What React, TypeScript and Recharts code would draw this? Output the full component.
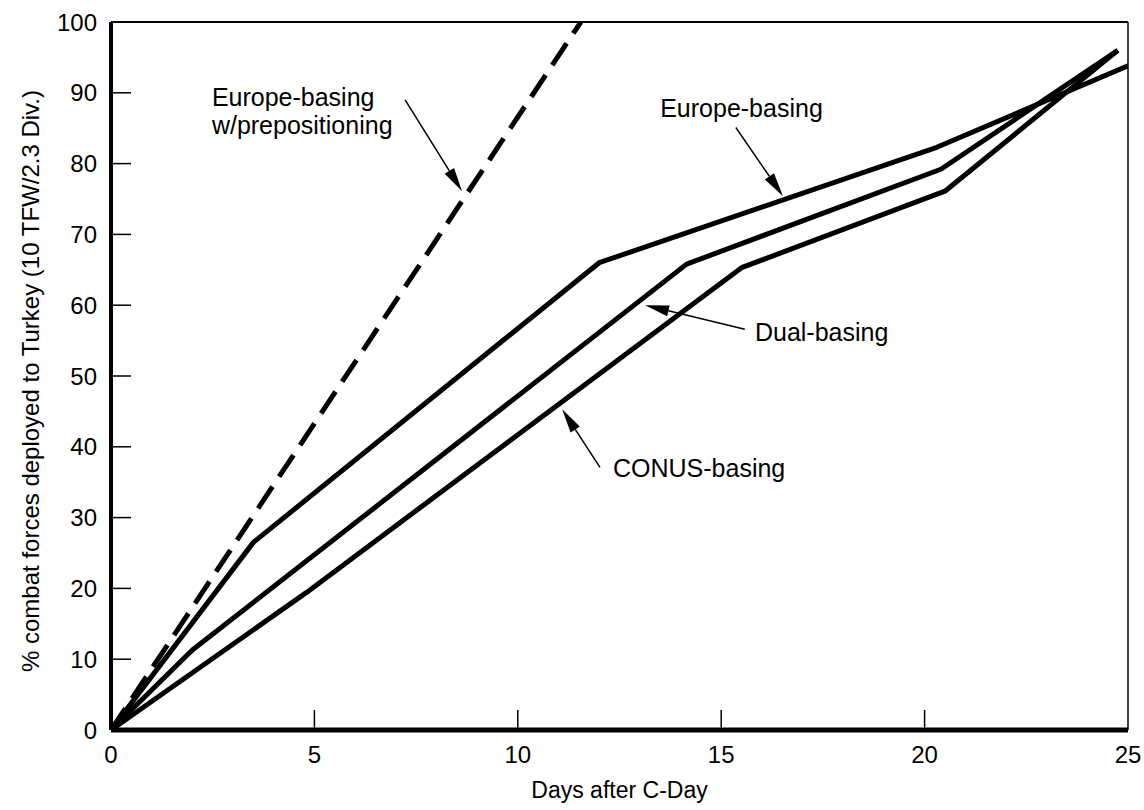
import React from "react";
import {
  LineChart,
  Line,
  XAxis,
  YAxis,
  ReferenceLine,
  ReferenceDot,
} from "recharts";

const prepoDays = [0, 11.55];
const prepoPct = [0, 100];

const europeDays = [0, 3.5, 12, 20.3, 25];
const europePct = [0, 26.5, 66, 82.3, 93.8];

const dualDays = [0, 2, 14.15, 20.4, 24.75];
const dualPct = [0, 11.3, 65.8, 79.2, 96];

const conusDays = [0, 4.8, 15.5, 20.5, 24.75];
const conusPct = [0, 19.4, 65.3, 76.1, 96];

const xTicks = [0, 5, 10, 15, 20, 25];
const yTicks = [0, 10, 20, 30, 40, 50, 60, 70, 80, 90, 100];

// annotation arrows: [fromDay, fromPct, toDay, toPct]
const arrows = [
  [7.23, 89.0, 8.63, 76.1],
  [15.36, 85.1, 16.52, 75.4],
  [15.58, 56.6, 13.13, 60.0],
  [12.02, 37.1, 11.09, 45.3],
];

// annotation text: [day, pct, lines]
const notes: [number, number, string[]][] = [
  [2.48, 88.1, ["Europe-basing", "w/prepositioning"]],
  [13.5, 86.6, ["Europe-basing"]],
  [15.83, 55.0, ["Dual-basing"]],
  [12.34, 35.8, ["CONUS-basing"]],
];

const toRows = (days: number[], pct: number[]) =>
  days.map((d, i) => ({ day: d, pct: pct[i] }));

const FONT = "'Liberation Sans', Arial, Helvetica, sans-serif";
const TICK_FS = 24;
const NOTE_FS = 25;
const TITLE_FS = 23;
const Y_MARGIN = 14;
const X_MARGIN = 16;
const TICK_LEN = 20;

const YTick = (props: any) => {
  const { x, y, payload } = props;
  const ax = x + Y_MARGIN;
  const v = payload.value;
  return (
    <g>
      {v !== 0 && v !== 100 && (
        <line x1={ax} y1={y} x2={ax + TICK_LEN} y2={y} stroke="#000" strokeWidth={1.5} />
      )}
      <text x={x} y={y} dy="0.355em" textAnchor="end" fontSize={TICK_FS} fontFamily={FONT} fill="#000">
        {v}
      </text>
    </g>
  );
};

const XTick = (props: any) => {
  const { x, y, payload } = props;
  const ay = y - X_MARGIN;
  const v = payload.value;
  return (
    <g>
      {v !== 0 && v !== 25 && (
        <line x1={x} y1={ay} x2={x} y2={ay - TICK_LEN} stroke="#000" strokeWidth={1.5} />
      )}
      <text x={x} y={y} dy="0.71em" textAnchor="middle" fontSize={TICK_FS} fontFamily={FONT} fill="#000">
        {v}
      </text>
    </g>
  );
};

const YTitle = (props: any) => {
  const vb = props.viewBox;
  const cx = vb.x + 30;
  const cy = vb.y + vb.height / 2 + 5;
  return (
    <text
      x={cx}
      y={cy}
      dy="0.355em"
      textAnchor="middle"
      transform={`rotate(-90 ${cx} ${cy})`}
      fontSize={TITLE_FS + 1}
      fontFamily={FONT}
      fill="#000"
    >
      % combat forces deployed to Turkey (10 TFW/2.3 Div.)
    </text>
  );
};

const Arrow = (props: any) => {
  const { x1, y1, x2, y2 } = props;
  const dx = x2 - x1;
  const dy = y2 - y1;
  const len = Math.sqrt(dx * dx + dy * dy) || 1;
  const ux = dx / len;
  const uy = dy / len;
  const hl = 24;
  const hw = 5.5;
  const bx = x2 - ux * hl;
  const by = y2 - uy * hl;
  const pts = `${x2},${y2} ${bx - uy * hw},${by + ux * hw} ${bx + uy * hw},${by - ux * hw}`;
  return (
    <g>
      <line x1={x1} y1={y1} x2={bx} y2={by} stroke="#000" strokeWidth={1.5} />
      <polygon points={pts} fill="#000" />
    </g>
  );
};

export default function App(): React.ReactElement {
  return (
    <div
      style={{
        position: "absolute",
        left: 0,
        top: 0,
        width: 1144,
        height: 810,
        background: "#fff",
        fontFamily: FONT,
      }}
    >
      <LineChart width={1144} height={810} margin={{ top: 22, right: 16, left: 0, bottom: 0 }}>
        <XAxis
          dataKey="day"
          type="number"
          domain={[0, 25]}
          ticks={xTicks}
          allowDataOverflow
          height={80}
          tickLine={false}
          tickSize={0}
          tickMargin={X_MARGIN}
          tick={<XTick />}
          axisLine={{ stroke: "#000", strokeWidth: 5 }}
          label={{
            value: "Days after C-Day",
            position: "insideBottom",
            offset: 12,
            style: { fontSize: TITLE_FS, fontFamily: FONT, fill: "#000" },
          }}
        />
        <YAxis
          type="number"
          domain={[0, 100]}
          ticks={yTicks}
          allowDataOverflow
          width={111}
          tickLine={false}
          tickSize={0}
          tickMargin={Y_MARGIN}
          tick={<YTick />}
          axisLine={{ stroke: "#000", strokeWidth: 4 }}
          label={{ content: (p: any) => <YTitle {...p} /> }}
        />
        <ReferenceLine y={100} stroke="#000" strokeWidth={2} />
        <ReferenceLine x={25} stroke="#000" strokeWidth={1.5} />

        <Line
          data={toRows(prepoDays, prepoPct)}
          dataKey="pct"
          type="linear"
          stroke="#000"
          strokeWidth={5}
          strokeDasharray="26 12"
          dot={false}
          activeDot={false}
          isAnimationActive={false}
        />
        <Line
          data={toRows(europeDays, europePct)}
          dataKey="pct"
          type="linear"
          stroke="#000"
          strokeWidth={5}
          strokeLinejoin="round"
          dot={false}
          activeDot={false}
          isAnimationActive={false}
        />
        <Line
          data={toRows(dualDays, dualPct)}
          dataKey="pct"
          type="linear"
          stroke="#000"
          strokeWidth={5}
          strokeLinejoin="round"
          dot={false}
          activeDot={false}
          isAnimationActive={false}
        />
        <Line
          data={toRows(conusDays, conusPct)}
          dataKey="pct"
          type="linear"
          stroke="#000"
          strokeWidth={5}
          strokeLinejoin="round"
          dot={false}
          activeDot={false}
          isAnimationActive={false}
        />

        {arrows.map((a, i) => (
          <ReferenceLine
            key={`arrow-${i}`}
            segment={[
              { x: a[0], y: a[1] },
              { x: a[2], y: a[3] },
            ]}
            stroke="#000"
            shape={(p: any) => <Arrow {...p} />}
          />
        ))}
        {notes.map((n, i) => (
          <ReferenceDot
            key={`note-${i}`}
            x={n[0]}
            y={n[1]}
            r={0}
            shape={(p: any) => (
              <text x={p.cx} y={p.cy} fontSize={NOTE_FS} fontFamily={FONT} fill="#000">
                {n[2].map((s, j) => (
                  <tspan key={j} x={p.cx} dy={j === 0 ? 0 : 28}>
                    {s}
                  </tspan>
                ))}
              </text>
            )}
          />
        ))}
      </LineChart>
    </div>
  );
}
